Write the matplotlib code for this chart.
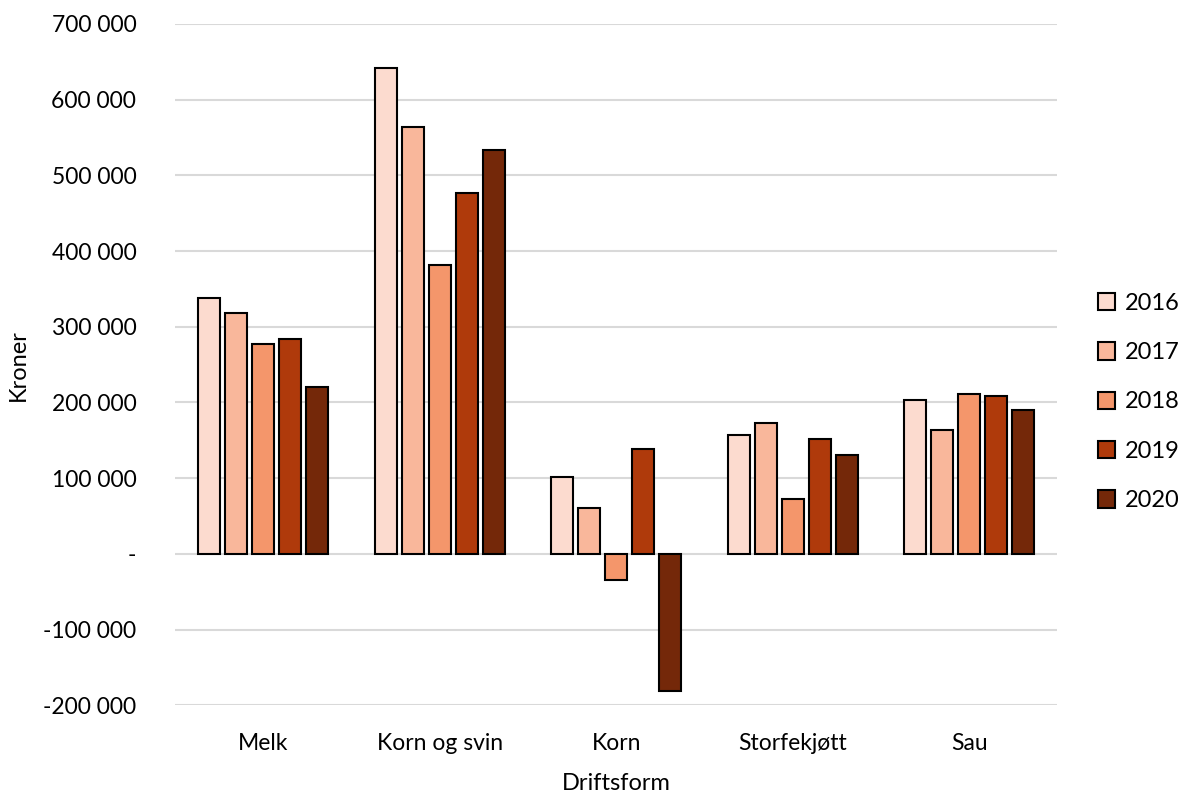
import numpy as np
import matplotlib.pyplot as plt
from matplotlib.ticker import FuncFormatter

plt.rcParams['font.family'] = ['Lato', 'DejaVu Sans']

categories = ['Melk', 'Korn og svin', 'Korn', 'Storfekjøtt', 'Sau']
years = ['2016', '2017', '2018', '2019', '2020']
v2016 = [338000, 642000, 102000, 157000, 203000]
v2017 = [318000, 564000, 60000, 173000, 163000]
v2018 = [277000, 381000, -34000, 72000, 211000]
v2019 = [284000, 477000, 139000, 152000, 209000]
v2020 = [220000, 533000, -181000, 130000, 190000]
series = [v2016, v2017, v2018, v2019, v2020]
colors = ['#FCDBCF', '#F9B79B', '#F4966B', '#AF3A0B', '#742809']

fig = plt.figure(figsize=(11.84, 7.96), dpi=100)
ax = fig.add_axes([0.148, 0.114, 0.745, 0.856])

x = np.arange(len(categories))
step = 0.153
width = 0.125
for i, (vals, col, yr) in enumerate(zip(series, colors, years)):
    ax.bar(x + (i - 2) * step, vals, width, color=col, edgecolor='black',
           linewidth=1.5, label=yr, zorder=3)

ax.set_xlim(-0.5, len(categories) - 0.5)
ax.set_ylim(-200000, 700000)
ax.set_yticks(np.arange(-200000, 700001, 100000))


def fmt(v, pos):
    if v == 0:
        return '-'
    return f'{int(v):,}'.replace(',', ' ')


ax.yaxis.set_major_formatter(FuncFormatter(fmt))
ax.grid(axis='y', color='#D9D9D9', linewidth=1.5, zorder=0)
for s in ax.spines.values():
    s.set_visible(False)
ax.tick_params(axis='both', length=0, labelsize=16.5)
ax.tick_params(axis='y', pad=28)
ax.set_xticks(x)
ax.set_xticklabels(categories)
ax.tick_params(axis='x', pad=20)

ax.set_xlabel('Driftsform', fontsize=17, labelpad=14)
ax.set_ylabel('Kroner', fontsize=17, labelpad=10)

fig.legend(loc='center left', bbox_to_anchor=(0.909, 0.495), frameon=False,
           fontsize=17, handlelength=0.75, handleheight=0.75, labelspacing=1.2,
           handletextpad=0.4)

fig.savefig('out.png', dpi=100)
